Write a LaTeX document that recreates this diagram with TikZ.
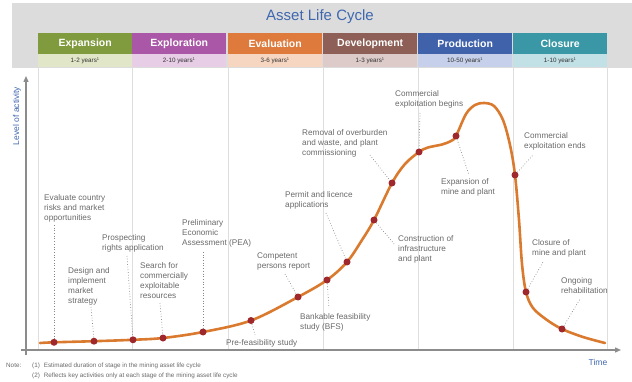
\documentclass[tikz,border=0pt]{standalone}
\usepackage{fontspec}
\setmainfont{Liberation Sans}
\usetikzlibrary{arrows.meta}
\definecolor{titleblue}{RGB}{63,103,176}
\definecolor{bggray}{RGB}{220,220,220}
\definecolor{gridgray}{RGB}{222,222,222}
\definecolor{axisgray}{RGB}{140,140,140}
\definecolor{txtgray}{RGB}{105,105,105}
\definecolor{curvec}{RGB}{217,122,47}
\definecolor{dotc}{RGB}{158,40,44}
\definecolor{cA}{RGB}{127,155,62}\definecolor{lA}{RGB}{225,230,200}
\definecolor{cB}{RGB}{169,87,166}\definecolor{lB}{RGB}{232,205,230}
\definecolor{cC}{RGB}{222,122,60}\definecolor{lC}{RGB}{246,214,193}
\definecolor{cD}{RGB}{141,95,86}\definecolor{lD}{RGB}{220,203,200}
\definecolor{cE}{RGB}{63,98,170}\definecolor{lE}{RGB}{198,208,234}
\definecolor{cF}{RGB}{58,152,166}\definecolor{lF}{RGB}{194,225,230}
\tikzset{
  stagebox/.style={minimum width=94pt,minimum height=21pt,inner sep=0pt,anchor=north west,
    text=white,font=\fontsize{10.5}{12}\selectfont\bfseries},
  yearbox/.style={minimum width=94pt,minimum height=13pt,inner sep=0pt,anchor=north west,
    text=black!80,font=\fontsize{6.3}{7}\selectfont},
  lbl/.style={anchor=north west,inner sep=0pt,align=left,text=txtgray,
    font=\fontsize{8.2}{10}\selectfont},
  dotn/.style={circle,fill=dotc,inner sep=0pt,minimum size=7pt},
  leader/.style={draw=txtgray!80,dotted,line width=0.7pt},
  grid line/.style={draw=gridgray,line width=0.6pt},
  axis/.style={draw=axisgray,line width=1.4pt,-{Triangle[length=6pt,width=5pt]}},
  bluetxt/.style={text=titleblue,inner sep=0pt,font=\fontsize{8.5}{10}\selectfont},
  notetxt/.style={anchor=base west,inner sep=0pt,text=txtgray,font=\fontsize{6.3}{7}\selectfont}
}
\newcommand{\yrs}[1]{#1 years\textsuperscript{\fontsize{4}{4}\selectfont 1}}
\begin{document}
\begin{tikzpicture}[x=1pt,y=-1pt]
\useasboundingbox (0,0) rectangle (632,382);
% header background
\fill[bggray] (12,3) rectangle (632,68);
\node[text=titleblue,font=\fontsize{15}{18}\selectfont,inner sep=0pt] (title) at (320,17) {Asset Life Cycle};
% stages
\foreach \x/\c/\l/\n/\y [count=\i] in {38/cA/lA/Expansion/1-2,132/cB/lB/Exploration/2-10,228/cC/lC/Evaluation/3-6,323/cD/lD/Development/1-3,418/cE/lE/Production/10-50,513/cF/lF/Closure/1-10}{
  \node[stagebox,fill=\c] (s\i) at (\x,33) {\n};
  \node[yearbox,fill=\l] (y\i) at (\x,54) {\yrs{\y}};
}
% grid lines
\foreach \x in {38,132,228,323,418,513,607}{
  \draw[grid line] (\x,67) -- (\x,350);
}
% axes
\coordinate (o1) at (26,355);
\coordinate (ytop) at (26,76);
\coordinate (o2) at (21,350);
\coordinate (xend) at (621,350);
\draw[axis] (o1) -- (ytop);
\draw[axis] (o2) -- (xend);
\node[bluetxt,rotate=90] (ylab) at (17,116) {Level of activity};
\node[bluetxt] (xlab) at (598,362) {Time};
% curve
\draw[curvec,line width=2.6pt,line cap=round] plot[smooth,tension=0.55] coordinates {
 (40,343) (54,342.3) (94,341.2) (133,339.8) (163,338) (203,332) (251,320.5) (298,297)
 (327,280) (347,262) (362,240) (374,220) (392,183) (405,164) (419,152) (428,147.5) (442,144.5)
 (451,141) (456,136) (466,114) (475,105) (484,103) (494,106) (503,120) (510,145) (515,175)
 (519,220) (522,264) (526,292) (533,308) (547,320) (562,329) (583,337) (605,343)};
% dots
\node[dotn] (d1) at (54,342.3) {};
\node[dotn] (d2) at (94,341.2) {};
\node[dotn] (d3) at (133,339.8) {};
\node[dotn] (d4) at (163,338) {};
\node[dotn] (d5) at (203,332) {};
\node[dotn] (d6) at (251,320.5) {};
\node[dotn] (d7) at (298,297) {};
\node[dotn] (d8) at (327,280) {};
\node[dotn] (d9) at (347,262) {};
\node[dotn] (d10) at (374,220) {};
\node[dotn] (d11) at (392,183) {};
\node[dotn] (d12) at (419,152) {};
\node[dotn] (d13) at (456,136) {};
\node[dotn] (d14) at (515,175) {};
\node[dotn] (d15) at (526,292) {};
\node[dotn] (d16) at (562,329) {};
% labels
\node[lbl] (t1) at (44,194.5) {Evaluate country\\risks and market\\opportunities};
\node[lbl] (t2) at (68,267.5) {Design and\\implement\\market\\strategy};
\node[lbl] (t3) at (102,234.5) {Prospecting\\rights application};
\node[lbl] (t4) at (140,262.5) {Search for\\commercially\\exploitable\\resources};
\node[lbl] (t5) at (182,219.5) {Preliminary\\Economic\\Assessment (PEA)};
\node[lbl] (t6) at (257,252.5) {Competent\\persons report};
\node[lbl] (t7) at (226,339.5) {Pre-feasibility study};
\node[lbl] (t8) at (300,313.5) {Bankable feasibility\\study (BFS)};
\node[lbl] (t9) at (285,191.5) {Permit and licence\\applications};
\node[lbl] (t10) at (302,129.5) {Removal of overburden\\and waste, and plant\\commissioning};
\node[lbl] (t11) at (395,90.5) {Commercial\\exploitation begins};
\node[lbl] (t12) at (398,235.5) {Construction of\\infrastructure\\and plant};
\node[lbl] (t13) at (441,178.5) {Expansion of\\mine and plant};
\node[lbl] (t14) at (524,132.5) {Commercial\\exploitation ends};
\node[lbl] (t15) at (532,239.5) {Closure of\\mine and plant};
\node[lbl] (t16) at (561,277.5) {Ongoing\\rehabilitation};
% leader ends
\coordinate (e1) at (54,225);
\coordinate (e2) at (91,307);
\coordinate (e3) at (127,256);
\coordinate (e4) at (160,303);
\coordinate (e5) at (203,252);
\coordinate (e6) at (255,335);
\coordinate (e7) at (285,274);
\coordinate (e8) at (329,308);
\coordinate (e9) at (326,213);
\coordinate (e10) at (395,245);
\coordinate (e11) at (370,155);
\coordinate (e12) at (420,113);
\coordinate (e13) at (469,175);
\coordinate (e14) at (533,155);
\coordinate (e15) at (543,262);
\coordinate (e16) at (580,299);
\draw[leader] (e1) -- (d1);
\draw[leader] (e2) -- (d2);
\draw[leader] (e3) -- (d3);
\draw[leader] (e4) -- (d4);
\draw[leader] (e5) -- (d5);
\draw[leader] (d6) -- (e6);
\draw[leader] (e7) -- (d7);
\draw[leader] (d8) -- (e8);
\draw[leader] (e9) -- (d9);
\draw[leader] (d10) -- (e10);
\draw[leader] (e11) -- (d11);
\draw[leader] (e12) -- (d12);
\draw[leader] (d13) -- (e13);
\draw[leader] (d14) -- (e14);
\draw[leader] (d15) -- (e15);
\draw[leader] (d16) -- (e16);
% notes
\node[notetxt] (n0) at (6,367) {Note:};
\node[notetxt] (n1) at (32,367) {(1)\hspace{4pt}Estimated duration of stage in the mining asset life cycle};
\node[notetxt] (n2) at (32,377) {(2)\hspace{4pt}Reflects key activities only at each stage of the mining asset life cycle};
\end{tikzpicture}
\end{document}
